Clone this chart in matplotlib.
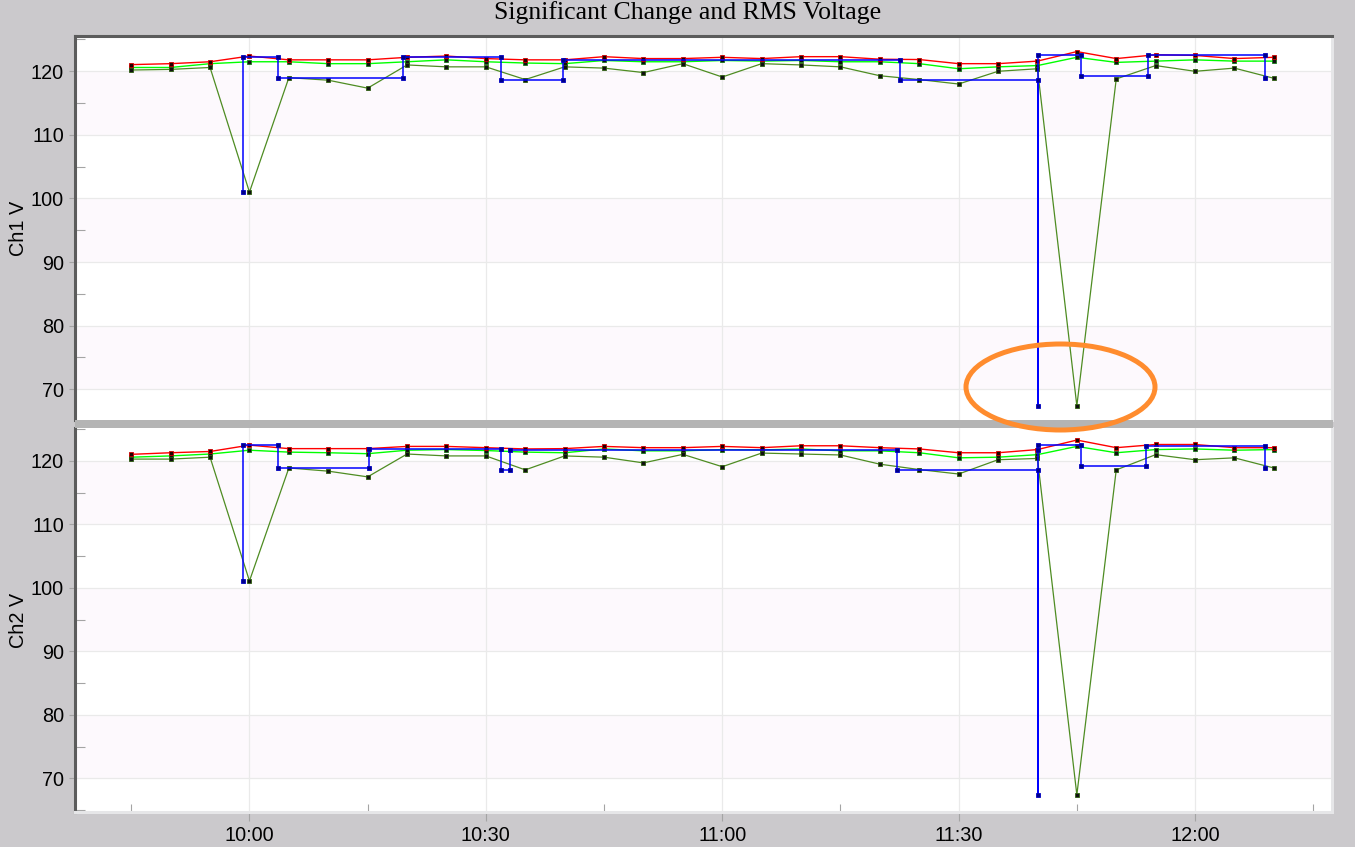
import matplotlib
matplotlib.use('Agg')
import matplotlib.pyplot as plt
from matplotlib.ticker import MultipleLocator, FuncFormatter
from matplotlib.patches import Ellipse, Rectangle

# regular RMS samples, every 5 minutes
times = ['09:45', '09:50', '09:55', '10:00', '10:05', '10:10', '10:15', '10:20', '10:25', '10:30',
         '10:35', '10:40', '10:45', '10:50', '10:55', '11:00', '11:05', '11:10', '11:15', '11:20',
         '11:25', '11:30', '11:35', '11:40', '11:45', '11:50', '11:55', '12:00', '12:05', '12:10']

ch1_max = [121.05, 121.2, 121.5, 122.4, 121.8, 121.8, 121.8, 122.2, 122.4, 122.0,
           121.8, 121.8, 122.3, 122.0, 122.0, 122.2, 122.0, 122.3, 122.3, 121.9,
           121.85, 121.2, 121.2, 121.6, 123.1, 122.0, 122.6, 122.5, 122.0, 122.2]
ch1_avg = [120.6, 120.6, 121.2, 121.5, 121.5, 121.2, 121.2, 121.5, 121.8, 121.5,
           121.3, 121.2, 121.7, 121.5, 121.5, 121.7, 121.6, 121.7, 121.5, 121.5,
           121.2, 120.4, 120.7, 120.9, 122.2, 121.4, 121.6, 121.8, 121.6, 121.6]
ch1_min = [120.2, 120.3, 120.6, 101.0, 119.0, 118.6, 117.35, 121.0, 120.7, 120.7,
           118.7, 120.7, 120.5, 119.8, 121.2, 119.1, 121.2, 121.0, 120.7, 119.3,
           118.7, 118.0, 120.0, 120.4, 67.4, 118.8, 120.9, 120.0, 120.5, 118.9]

ch2_max = [121.05, 121.3, 121.5, 122.5, 121.95, 121.95, 121.95, 122.3, 122.3, 122.1,
           121.9, 121.95, 122.3, 122.1, 122.1, 122.3, 122.1, 122.4, 122.4, 122.1,
           121.9, 121.3, 121.3, 121.8, 123.3, 122.1, 122.6, 122.6, 122.1, 122.1]
ch2_avg = [120.6, 120.8, 121.1, 121.7, 121.4, 121.3, 121.15, 121.7, 121.8, 121.65,
           121.4, 121.3, 121.9, 121.6, 121.6, 121.8, 121.75, 121.9, 121.6, 121.6,
           121.3, 120.5, 120.6, 121.0, 122.3, 121.3, 121.8, 121.9, 121.7, 121.8]
ch2_min = [120.3, 120.3, 120.6, 101.1, 118.9, 118.4, 117.5, 121.1, 120.8, 120.8,
           118.6, 120.8, 120.6, 119.7, 121.05, 119.1, 121.25, 121.1, 120.95, 119.5,
           118.65, 117.95, 120.2, 120.4, 67.4, 118.6, 121.0, 120.2, 120.5, 118.9]

# significant change records (blue trace)
ch1_sc_t = ['09:59:08', '09:59:08', '10:03:37', '10:03:37', '10:19:28', '10:19:28', '10:31:54',
            '10:31:54', '10:39:46', '10:39:46', '11:22:30', '11:22:30', '11:40:04', '11:40:04',
            '11:40:04', '11:45:34', '11:45:34', '11:54:00', '11:54:00', '12:08:56', '12:08:56']
ch1_sc_v = [101.0, 122.3, 122.3, 119.0, 119.0, 122.2, 122.2,
            118.6, 118.6, 121.8, 121.8, 118.6, 118.6, 67.4,
            122.5, 122.5, 119.25, 119.25, 122.5, 122.5, 119.0]

ch2_sc_t = ['09:59:08', '09:59:08', '10:03:37', '10:03:37', '10:15:10', '10:15:10', '10:31:54',
            '10:31:54', '10:33:03', '10:33:03', '11:22:08', '11:22:08', '11:40:04', '11:40:04',
            '11:40:04', '11:40:04', '11:45:34', '11:45:34', '11:53:48', '11:53:48', '12:08:56',
            '12:08:56']
ch2_sc_v = [101.1, 122.5, 122.5, 118.9, 118.9, 121.95, 121.95,
            118.6, 118.6, 121.75, 121.75, 118.6, 118.6, 67.4,
            121.75, 122.5, 122.5, 119.2, 119.2, 122.4, 122.4,
            118.9]

W, H = 1355, 847
BG = '#CBC9CC'
BAND = '#FDF9FD'
GRID = '#EAEAEA'
DARK = '#5C5C5C'
LIGHT = '#E6E6E8'
TICK = '#A4A4A4'
SANS = ['Liberation Sans', 'DejaVu Sans']
FS = 14.3


def to_min(s):
    parts = [int(p) for p in s.split(':')]
    m = parts[0] * 60 + parts[1]
    if len(parts) > 2:
        m += parts[2] / 60.0
    return m


def fmt_time(x, pos):
    x = int(round(x))
    return '%d:%02d' % (x // 60, x % 60)


def draw_panel(ax, mx, av, mn, sc_t, sc_v, ylim):
    t = [to_min(s) for s in times]
    ts = [to_min(s) for s in sc_t]

    for lo in (110, 90, 70):
        ax.axhspan(lo, lo + 10, color=BAND, zorder=0, lw=0)

    ax.plot(t, av, color='#00FF00', lw=1.0, marker='s', ms=2.4,
            mfc='#101010', mec='#1A7A1A', mew=0.6, zorder=3)
    ax.plot(t, mx, color='#FF0000', lw=1.0, marker='s', ms=2.4,
            mfc='#200000', mec='#D00000', mew=0.6, zorder=4)
    ax.plot(t, mn, color='#4E8C22', lw=0.9, marker='s', ms=2.4,
            mfc='#101010', mec='#2E5E10', mew=0.6, zorder=5)
    ax.plot(ts, sc_v, color='#0000FF', lw=1.1, marker='s', ms=2.5,
            mfc='#00008A', mec='#0000C0', mew=0.6, zorder=6)

    ax.set_xlim(577.86, 737.38)
    ax.set_ylim(*ylim)
    ax.set_facecolor('white')

    ax.xaxis.set_major_locator(MultipleLocator(30))
    ax.xaxis.set_minor_locator(MultipleLocator(15))
    ax.xaxis.set_major_formatter(FuncFormatter(fmt_time))
    ax.yaxis.set_major_locator(MultipleLocator(10))
    ax.yaxis.set_minor_locator(MultipleLocator(5))

    ax.grid(True, which='major', color=GRID, lw=0.9, zorder=1)
    ax.set_axisbelow(True)

    ax.tick_params(axis='y', which='major', direction='out', length=4.5, width=0.8,
                   color=TICK, pad=3.5, labelsize=FS)
    ax.tick_params(axis='y', which='minor', direction='in', length=7, width=0.8,
                   color=TICK)
    for lab in ax.get_yticklabels():
        lab.set_family(SANS)

    ax.spines['left'].set_color(DARK)
    ax.spines['left'].set_linewidth(2.2)
    ax.spines['right'].set_color(LIGHT)
    ax.spines['right'].set_linewidth(2.2)


fig = plt.figure(figsize=(W / 100, H / 100), dpi=100, facecolor=BG)

left = 75 / W
width = (1332 - 75) / W
ax1 = fig.add_axes([left, 1 - 420 / H, width, 384 / H])
ax2 = fig.add_axes([left, 1 - 812 / H, width, 384 / H])

draw_panel(ax1, ch1_max, ch1_avg, ch1_min, ch1_sc_t, ch1_sc_v, (65.17, 125.55))
draw_panel(ax2, ch2_max, ch2_avg, ch2_min, ch2_sc_t, ch2_sc_v, (64.69, 125.2))

# top panel: no x ticks, dark top edge
ax1.tick_params(axis='x', which='both', length=0, labelbottom=False)
ax1.spines['top'].set_color(DARK)
ax1.spines['top'].set_linewidth(2.2)
ax1.spines['bottom'].set_visible(False)

# bottom panel: time axis
ax2.spines['top'].set_visible(False)
ax2.spines['bottom'].set_color(LIGHT)
ax2.spines['bottom'].set_linewidth(2.2)
ax2.tick_params(axis='x', which='major', direction='out', length=6.5, width=0.8,
                color=TICK, pad=3.5, labelsize=FS)
ax2.tick_params(axis='x', which='minor', direction='in', length=6, width=0.8,
                color=TICK)
for lab in ax2.get_xticklabels():
    lab.set_family(SANS)

# separator between the two panels
fig.add_artist(Rectangle((75 / W, 1 - 428 / H), (1333 - 75) / W, 8 / H,
                         transform=fig.transFigure, color='#B4B4B4', lw=0, zorder=5))

fig.text(18 / W, 1 - 228 / H, 'Ch1 V', rotation=90, ha='center', va='center',
         fontsize=FS, family=SANS)
fig.text(18 / W, 1 - 620 / H, 'Ch2 V', rotation=90, ha='center', va='center',
         fontsize=FS, family=SANS)

fig.text(688 / W, 1 - 13 / H, 'Significant Change and RMS Voltage', ha='center',
         va='center', fontsize=18.5, family=['Liberation Serif', 'DejaVu Serif'])

# highlight of the deep sag
fig.add_artist(Ellipse((1060.5 / W, 1 - 387 / H), 189 / W, 86 / H,
                       transform=fig.transFigure, fill=False, ec='#FF8C2E',
                       lw=3.6, zorder=10))

fig.savefig('out.png', dpi=100, facecolor=BG)
